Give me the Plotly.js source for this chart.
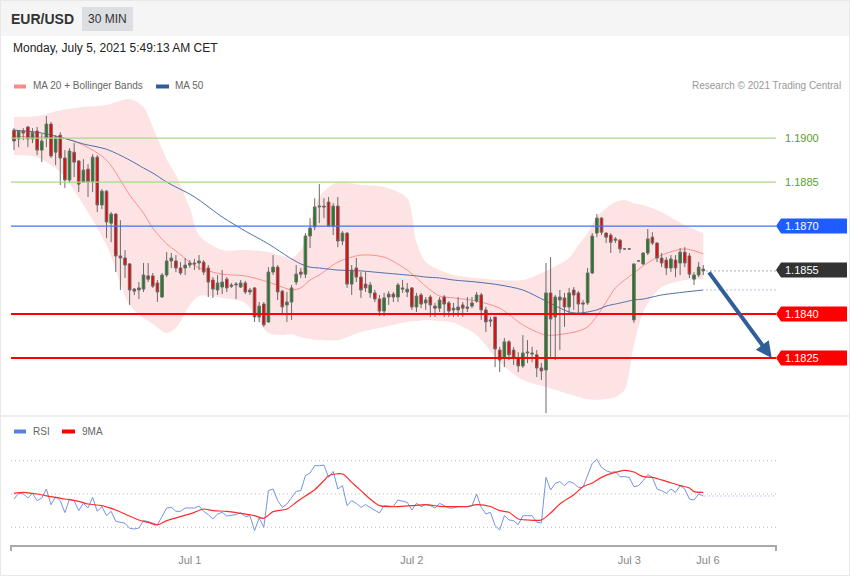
<!DOCTYPE html>
<html><head><meta charset="utf-8">
<script src="https://cdn.plot.ly/plotly-3.0.1.min.js"></script>
<style>html,body{margin:0;padding:0;background:#fff;}#chart{width:850px;height:576px;}</style>
</head><body><div id="chart"></div>
<script>
// ---------- DATA ----------
const open = [
1.19027,1.18997,1.19024,1.19038,1.18997,1.19024,1.18959,1.19000,1.19048,1.18952,
1.19010,1.18932,1.18857,1.18952,1.18922,1.18850,1.18894,1.18850,1.18935,1.18772,
1.18819,1.18710,1.18741,1.18598,1.18591,1.18571,1.18485,1.18482,1.18485,1.18530,
1.18530,1.18506,1.18458,1.18533,1.18581,1.18581,1.18557,1.18557,1.18567,1.18574,
1.18574,1.18577,1.18557,1.18516,1.18482,1.18492,1.18519,1.18499,1.18499,1.18492,
1.18506,1.18482,1.18489,1.18390,1.18434,1.18373,1.18543,1.18560,1.18478,1.18431,
1.18441,1.18509,1.18543,1.18536,1.18666,1.18697,1.18765,1.18768,1.18782,1.18700,
1.18768,1.18649,1.18676,1.18502,1.18557,1.18526,1.18502,1.18472,1.18472,1.18451,
1.18410,1.18458,1.18468,1.18458,1.18489,1.18475,1.18489,1.18424,1.18465,1.18438,
1.18458,1.18427,1.18420,1.18458,1.18438,1.18420,1.18414,1.18431,1.18424,1.18427,
1.18444,1.18465,1.18414,1.18380,1.18390,1.18277,1.18250,1.18305,1.18277,1.18250,
1.18223,1.18267,1.18267,1.18261,1.18216,1.18209,1.18472,1.18390,1.18448,1.18455,
1.18424,1.18482,1.18472,1.18438,1.18438,1.18540,1.18676,1.18727,1.18676,1.18669,
1.18656,1.18652,1.18622,1.18622,1.18380,1.18581,1.18571,1.18608,1.18662,1.18642,
1.18591,1.18584,1.18557,1.18584,1.18574,1.18611,1.18598,1.18519,1.18533,1.18553];
const high = [
1.19034,1.19027,1.19034,1.19041,1.19034,1.19038,1.19014,1.19075,1.19055,1.19010,
1.19020,1.18959,1.18966,1.18983,1.18925,1.18928,1.18911,1.18945,1.18942,1.18826,
1.18823,1.18748,1.18744,1.18720,1.18618,1.18574,1.18489,1.18509,1.18574,1.18574,
1.18540,1.18516,1.18540,1.18611,1.18608,1.18601,1.18577,1.18591,1.18584,1.18588,
1.18601,1.18584,1.18567,1.18526,1.18533,1.18550,1.18526,1.18506,1.18509,1.18516,
1.18513,1.18489,1.18492,1.18441,1.18441,1.18560,1.18601,1.18567,1.18482,1.18475,
1.18499,1.18567,1.18557,1.18676,1.18727,1.18795,1.18843,1.18795,1.18799,1.18778,
1.18799,1.18683,1.18679,1.18567,1.18591,1.18543,1.18543,1.18509,1.18482,1.18465,
1.18472,1.18478,1.18475,1.18506,1.18516,1.18506,1.18492,1.18472,1.18472,1.18458,
1.18465,1.18438,1.18458,1.18465,1.18444,1.18438,1.18458,1.18441,1.18458,1.18458,
1.18475,1.18472,1.18424,1.18390,1.18390,1.18288,1.18318,1.18311,1.18288,1.18270,
1.18328,1.18311,1.18288,1.18277,1.18233,1.18574,1.18594,1.18465,1.18482,1.18472,
1.18489,1.18492,1.18478,1.18448,1.18557,1.18676,1.18741,1.18731,1.18679,1.18676,
1.18662,1.18656,1.18622,1.18622,1.18571,1.18581,1.18611,1.18690,1.18679,1.18645,
1.18608,1.18594,1.18601,1.18601,1.18625,1.18628,1.18608,1.18543,1.18577,1.18567];
const low = [
1.18959,1.18969,1.18993,1.18969,1.18983,1.18942,1.18918,1.18969,1.18932,1.18908,
1.18840,1.18830,1.18847,1.18867,1.18816,1.18847,1.18799,1.18816,1.18748,1.18758,
1.18659,1.18645,1.18543,1.18482,1.18523,1.18431,1.18465,1.18451,1.18475,1.18509,
1.18489,1.18441,1.18455,1.18526,1.18557,1.18543,1.18533,1.18533,1.18557,1.18550,
1.18550,1.18533,1.18458,1.18455,1.18465,1.18468,1.18475,1.18489,1.18451,1.18489,
1.18468,1.18465,1.18373,1.18373,1.18356,1.18370,1.18533,1.18448,1.18397,1.18373,
1.18380,1.18499,1.18523,1.18523,1.18625,1.18686,1.18710,1.18727,1.18697,1.18669,
1.18628,1.18635,1.18489,1.18465,1.18509,1.18455,1.18475,1.18455,1.18441,1.18393,
1.18393,1.18431,1.18441,1.18441,1.18472,1.18458,1.18414,1.18407,1.18420,1.18414,
1.18390,1.18390,1.18407,1.18390,1.18390,1.18390,1.18390,1.18390,1.18407,1.18420,
1.18438,1.18380,1.18339,1.18356,1.18219,1.18202,1.18219,1.18243,1.18226,1.18202,
1.18216,1.18233,1.18236,1.18185,1.18175,1.18062,1.18254,1.18243,1.18277,1.18356,
1.18397,1.18414,1.18397,1.18397,1.18431,1.18536,1.18662,1.18669,1.18642,1.18608,
1.18642,1.18608,1.18622,1.18622,1.18370,1.18581,1.18567,1.18601,1.18635,1.18577,
1.18560,1.18533,1.18543,1.18526,1.18533,1.18560,1.18523,1.18499,1.18526,1.18533];
const close = [
1.18990,1.19024,1.19017,1.18997,1.19020,1.18959,1.18990,1.19048,1.18939,1.19000,
1.18932,1.18857,1.18956,1.18918,1.18843,1.18891,1.18850,1.18935,1.18772,1.18819,
1.18714,1.18741,1.18598,1.18591,1.18567,1.18482,1.18478,1.18489,1.18533,1.18519,
1.18495,1.18475,1.18533,1.18581,1.18591,1.18557,1.18540,1.18567,1.18574,1.18571,
1.18581,1.18543,1.18509,1.18485,1.18506,1.18509,1.18489,1.18495,1.18502,1.18506,
1.18475,1.18475,1.18390,1.18427,1.18363,1.18543,1.18560,1.18475,1.18424,1.18441,
1.18489,1.18536,1.18536,1.18666,1.18693,1.18765,1.18768,1.18765,1.18700,1.18768,
1.18649,1.18676,1.18502,1.18550,1.18526,1.18482,1.18489,1.18499,1.18451,1.18410,
1.18455,1.18468,1.18458,1.18499,1.18485,1.18485,1.18424,1.18461,1.18434,1.18448,
1.18431,1.18420,1.18448,1.18434,1.18410,1.18414,1.18424,1.18420,1.18420,1.18438,
1.18465,1.18414,1.18373,1.18376,1.18281,1.18243,1.18305,1.18261,1.18250,1.18223,
1.18267,1.18270,1.18264,1.18216,1.18206,1.18472,1.18383,1.18458,1.18458,1.18424,
1.18472,1.18465,1.18434,1.18434,1.18540,1.18666,1.18727,1.18679,1.18662,1.18645,
1.18652,1.18622,1.18622,1.18622,1.18571,1.18581,1.18608,1.18656,1.18642,1.18591,
1.18574,1.18557,1.18588,1.18557,1.18611,1.18574,1.18536,1.18533,1.18560,1.18547];

// indicator readings (bar index where read)
const indIdx = [0,5,10,15,20,25,28,30,33,35,38,40,45,50,55,58,60,62,64,66,70,75,80,85,87,89,92,95,100,105,110,115,120,122,124,126,128,130,132,134,136,138,140,145,149];
const bbUpper = [1.19072,1.19075,1.19095,1.19106,1.19113,1.19133,1.19106,1.19038,1.18928,1.18874,1.18761,1.18669,1.18618,1.18618,1.18611,1.18598,1.18591,1.18618,1.18700,1.18799,1.18850,1.18840,1.18833,1.18795,1.18645,1.18577,1.18550,1.18533,1.18523,1.18516,1.18516,1.18547,1.18591,1.18635,1.18676,1.18731,1.18761,1.18782,1.18789,1.18778,1.18772,1.18761,1.18748,1.18703,1.18676];
const bbLower = [1.18942,1.18935,1.18884,1.18772,1.18635,1.18431,1.18386,1.18366,1.18335,1.18352,1.18431,1.18461,1.18455,1.18438,1.18335,1.18328,1.18332,1.18321,1.18315,1.18311,1.18311,1.18339,1.18356,1.18373,1.18376,1.18380,1.18376,1.18370,1.18328,1.18236,1.18175,1.18151,1.18127,1.18117,1.18110,1.18107,1.18110,1.18117,1.18141,1.18294,1.18407,1.18458,1.18492,1.18516,1.18519];
const ma20 = [1.19007,1.19003,1.19003,1.18976,1.18925,1.18806,1.18744,1.18693,1.18639,1.18615,1.18577,1.18557,1.18536,1.18530,1.18509,1.18492,1.18482,1.18489,1.18516,1.18533,1.18577,1.18601,1.18594,1.18550,1.18523,1.18495,1.18461,1.18455,1.18444,1.18420,1.18363,1.18328,1.18335,1.18342,1.18356,1.18393,1.18441,1.18489,1.18516,1.18540,1.18564,1.18584,1.18601,1.18622,1.18605];
const ma50 = [1.19027,1.19020,1.19003,1.18980,1.18962,1.18925,1.18898,1.18881,1.18850,1.18833,1.18809,1.18789,1.18731,1.18683,1.18639,1.18608,1.18588,1.18571,1.18560,1.18557,1.18550,1.18547,1.18540,1.18533,1.18530,1.18526,1.18523,1.18516,1.18509,1.18499,1.18482,1.18444,1.18407,1.18403,1.18407,1.18414,1.18427,1.18434,1.18441,1.18448,1.18451,1.18458,1.18465,1.18475,1.18482];

const rsi = [
47,50.4,50,47.6,50.4,46,47.6,53,43.6,48.4,
46,38.8,47,46,40,44.4,41.6,48,39.6,42.4,
37,39.6,33.6,33,32.4,29.4,29,29.6,34,33.4,
32.6,31.6,36.4,41.6,42,39.6,39.6,41.6,41.6,41.6,
42.8,39.6,37.6,35,38,39,36.8,37,37.6,38.8,
36.4,37,28,35.6,30,52,53,46,42,44,
47.6,51.6,52,61,62.6,67,67,67.4,60,63.6,
53,55,43,46,44.4,42,43.6,42,40.4,38.6,
43,43,42.6,46.4,45.6,45,40.4,44.4,42.4,43.6,
43,41.6,44.4,43,41.6,41.6,42.4,42.4,42.4,43,
50,42,38,39,31,28.4,37,34.4,34,31.6,
37,37,37,33,32.6,60,52.4,56.4,57.4,55,
57.6,56.4,54,54,61.6,68.4,70.8,66,64,63,
63.4,60.4,60.4,60,54.4,55,58,61.6,60,53,
52,50.4,53,51,55,53,47,46.4,50,48.8];
const rsiMaIdx = [0,2,5,8,11,14,16,19,22,24,27,29,31,33,36,39,41,43,46,49,52,54,56,59,61,62,65,67,68,71,73,75,77,79,81,83,86,89,92,96,98,100,103,105,107,109,111,114,116,118,121,123,125,127,129,132,134,136,138,141,144,146,147,149];
const rsiMa = [50.4,51,50,48.4,47,45.6,44,43,40.4,38,34.4,33,31.4,34,36.4,39,41,40,39.6,38.4,37,35.4,39.4,41,45,47,52.6,58,61,62,57,52,47,43,42.4,42.4,43,43.6,42.6,42.4,42.4,43.6,42.5,40,39,35,34.4,34.4,38.6,44,49.5,54.4,56.6,60,62.2,64.2,63.2,60.4,60,57.6,55,53.6,51.4,51];

const levels = [1.1900, 1.1885, 1.1870, 1.1855, 1.1840, 1.1825];
const levelKind = ['res', 'res', 'pivot', 'last', 'sup', 'sup'];
const levelLabels = ['1.1900', '1.1885', '1.1870', '1.1855', '1.1840', '1.1825'];
const tickIdx = [38, 86, 133, 150];
const tickText = ['Jul 1', 'Jul 2', 'Jul 3', 'Jul 6'];
const rsiLevels = [70, 50, 30];
const arrowFrom = [150, 1.18547];
const arrowTo = [163.8, 1.1825];

// ---------- LAYOUT GEOMETRY ----------
const W = 850, H = 576, ML = 11, MR = 3, MT = 95, MB = 30;
const plotW = W - ML - MR, plotH = H - MT - MB;
const barPx = 4.626, firstBarPx = 14;
const xRange = [(ML - firstBarPx) / barPx, (W - MR - firstBarPx) / barPx];
const xAt = px => (px - firstBarPx) / barPx;
const PX = px => (px - ML) / plotW;
const PY = py => (H - MB - py) / plotH;
const yRange = [1.18059, 1.19147];
const mainDomain = [PY(414), 1];
const rsiDomain = [0, PY(417)];
const rsiRange = [18.77, 96.25];
const pricePerPx = (yRange[1] - yRange[0]) / (414 - MT);
const lineEnd = xAt(776);
const FONT = 'Liberation Sans, Arial, sans-serif';
const idx = close.map((_, i) => i);

const traces = [
  {x: indIdx, y: bbUpper, type: 'scatter', mode: 'lines', line: {width: 0, shape: 'spline', smoothing: 0.8}, hoverinfo: 'skip'},
  {x: indIdx, y: bbLower, type: 'scatter', mode: 'lines', fill: 'tonexty', fillcolor: '#fde3e3', line: {width: 0, shape: 'spline', smoothing: 0.8}, hoverinfo: 'skip'},
  {x: indIdx, y: ma20, type: 'scatter', mode: 'lines', line: {color: '#ff8e8e', width: 1, shape: 'spline', smoothing: 0.8}},
  {x: indIdx, y: ma50, type: 'scatter', mode: 'lines', line: {color: '#4d6fab', width: 1, shape: 'spline', smoothing: 0.8}},
  {x: idx, open: open, high: high, low: low, close: close, type: 'candlestick', yaxis: 'y3',
   increasing: {line: {color: '#6a6a6a', width: 1}, fillcolor: '#1d7f1d'},
   decreasing: {line: {color: '#6a6a6a', width: 1}, fillcolor: '#f20000'}, whiskerwidth: 0},
  {x: idx, y: rsi, yaxis: 'y2', type: 'scatter', mode: 'lines', line: {color: '#7594e6', width: 1}},
  {x: rsiMaIdx, y: rsiMa, yaxis: 'y2', type: 'scatter', mode: 'lines', line: {color: '#ff2b2b', width: 1.2, shape: 'spline', smoothing: 0.8}}
];

const shapes = [];
const annotations = [];
// header
shapes.push({type: 'rect', xref: 'paper', yref: 'paper', x0: PX(0), x1: PX(850), y0: PY(36), y1: PY(0), fillcolor: '#f5f5f5', line: {width: 0}, layer: 'below'});
shapes.push({type: 'rect', xref: 'paper', yref: 'paper', x0: PX(82), x1: PX(133), y0: PY(31), y1: PY(7), fillcolor: '#dcdee2', line: {width: 0}});
annotations.push({xref: 'paper', yref: 'paper', x: PX(9), y: PY(19), xanchor: 'left', yanchor: 'middle', text: '<b>EUR/USD</b>', showarrow: false, font: {family: FONT, size: 14, color: '#333'}});
annotations.push({xref: 'paper', yref: 'paper', x: PX(107.5), y: PY(19), xanchor: 'center', yanchor: 'middle', text: '30 MIN', showarrow: false, font: {family: FONT, size: 12, color: '#333'}});
annotations.push({xref: 'paper', yref: 'paper', x: PX(11), y: PY(48), xanchor: 'left', yanchor: 'middle', text: 'Monday, July 5, 2021 5:49:13 AM CET', showarrow: false, font: {family: FONT, size: 12, color: '#222'}});
// legends
shapes.push({type: 'rect', xref: 'paper', yref: 'paper', x0: PX(14), x1: PX(26), y0: PY(88.5), y1: PY(84.5), fillcolor: '#ff8a85', line: {width: 0}});
annotations.push({xref: 'paper', yref: 'paper', x: PX(31), y: PY(86), xanchor: 'left', yanchor: 'middle', text: 'MA 20 + Bollinger Bands', showarrow: false, font: {family: FONT, size: 10, color: '#666'}});
shapes.push({type: 'rect', xref: 'paper', yref: 'paper', x0: PX(156), x1: PX(169), y0: PY(88.5), y1: PY(84.5), fillcolor: '#2f5d9c', line: {width: 0}});
annotations.push({xref: 'paper', yref: 'paper', x: PX(173), y: PY(86), xanchor: 'left', yanchor: 'middle', text: 'MA 50', showarrow: false, font: {family: FONT, size: 10, color: '#666'}});
annotations.push({xref: 'paper', yref: 'paper', x: PX(843), y: PY(86), xanchor: 'right', yanchor: 'middle', text: 'Research © 2021 Trading Central', showarrow: false, font: {family: FONT, size: 10, color: '#999'}});
shapes.push({type: 'rect', xref: 'paper', yref: 'paper', x0: PX(14), x1: PX(26), y0: PY(433.5), y1: PY(429.5), fillcolor: '#5b7fe0', line: {width: 0}});
annotations.push({xref: 'paper', yref: 'paper', x: PX(31), y: PY(431), xanchor: 'left', yanchor: 'middle', text: 'RSI', showarrow: false, font: {family: FONT, size: 10, color: '#666'}});
shapes.push({type: 'rect', xref: 'paper', yref: 'paper', x0: PX(62), x1: PX(75), y0: PY(433.5), y1: PY(429.5), fillcolor: '#ff0000', line: {width: 0}});
annotations.push({xref: 'paper', yref: 'paper', x: PX(80), y: PY(431), xanchor: 'left', yanchor: 'middle', text: '9MA', showarrow: false, font: {family: FONT, size: 10, color: '#666'}});
// separator & border
shapes.push({type: 'line', xref: 'paper', yref: 'paper', x0: PX(0), x1: PX(850), y0: PY(416), y1: PY(416), line: {color: '#eceef2', width: 2}});
shapes.push({type: 'rect', xref: 'paper', yref: 'paper', x0: PX(0.5), x1: PX(849.5), y0: PY(575.5), y1: PY(0.5), line: {color: '#e8e8e8', width: 1}});

// price levels
const kindStyle = {
  res: {line: '#a8d88a', w: 1.2, tag: null, txt: '#5a9e2a'},
  pivot: {line: '#3f76ef', w: 1.3, tag: '#1f5cff', txt: '#fff'},
  last: {line: null, w: 0, tag: '#333333', txt: '#fff'},
  sup: {line: '#ff0000', w: 2, tag: '#ff0000', txt: '#fff'}
};
const hh = 7.5 * pricePerPx;
const tx0 = xAt(776), tx1 = xAt(781), tx2 = xAt(847);
levels.forEach((p, k) => {
  const st = kindStyle[levelKind[k]];
  if (st.line) shapes.push({type: 'line', xref: 'x', yref: 'y', x0: xRange[0], x1: lineEnd, y0: p, y1: p, line: {color: st.line, width: st.w}, layer: 'above'});
  if (st.tag) shapes.push({type: 'path', xref: 'x', yref: 'y', path: `M${tx0},${p} L${tx1},${p + hh} L${tx2},${p + hh} L${tx2},${p - hh} L${tx1},${p - hh} Z`, fillcolor: st.tag, line: {width: 0}});
  annotations.push({xref: 'x', yref: 'y', x: xAt(783), y: p, xanchor: 'left', yanchor: 'middle', text: levelLabels[k], showarrow: false, font: {family: FONT, size: 11, color: st.txt}});
});
// projections
const lastI = close.length - 1;
shapes.push({type: 'line', xref: 'x', yref: 'y', x0: lastI + 0.7, x1: lineEnd, y0: close[lastI], y1: close[lastI], line: {color: '#555', width: 1, dash: '1px,3px'}});
shapes.push({type: 'line', xref: 'x', yref: 'y', x0: indIdx[indIdx.length - 1] + 0.7, x1: lineEnd, y0: ma50[ma50.length - 1], y1: ma50[ma50.length - 1], line: {color: '#6f88b8', width: 1, dash: '1px,3px'}});
annotations.push({xref: 'x', yref: 'y', axref: 'x', ayref: 'y', x: arrowTo[0], y: arrowTo[1], ax: arrowFrom[0], ay: arrowFrom[1], text: '', showarrow: true, arrowhead: 2, arrowsize: 0.8, arrowwidth: 4, arrowcolor: '#2f5e99'});
// RSI levels
rsiLevels.forEach(v => shapes.push({type: 'line', xref: 'x', yref: 'y2', x0: xRange[0], x1: lineEnd, y0: v, y1: v, line: {color: '#bdbdbd', width: 1, dash: '1px,3px'}, layer: 'below'}));
shapes.push({type: 'line', xref: 'x', yref: 'y2', x0: lastI + 0.3, x1: lineEnd, y0: rsi[lastI], y1: rsi[lastI], line: {color: '#7594e6', width: 1, dash: '1px,3px'}});
// x axis line
shapes.push({type: 'line', xref: 'paper', yref: 'paper', x0: PX(11), x1: PX(776), y0: PY(546), y1: PY(546), line: {color: '#aaaaaa', width: 2}});
shapes.push({type: 'line', xref: 'paper', yref: 'paper', x0: PX(11), x1: PX(11), y0: PY(545), y1: PY(551), line: {color: '#aaaaaa', width: 2}});
shapes.push({type: 'line', xref: 'paper', yref: 'paper', x0: PX(776), x1: PX(776), y0: PY(545), y1: PY(551), line: {color: '#aaaaaa', width: 2}});

const layout = {
  width: W, height: H, margin: {l: ML, r: MR, t: MT, b: MB},
  paper_bgcolor: '#ffffff', plot_bgcolor: 'rgba(0,0,0,0)',
  showlegend: false, hovermode: false, boxgap: 0.2,
  font: {family: FONT},
  xaxis: {domain: [0, 1], range: xRange, anchor: 'y2', showgrid: false, zeroline: false, showline: false,
          tickmode: 'array', tickvals: tickIdx, ticktext: tickText, ticks: 'outside', ticklen: 4, tickcolor: 'rgba(0,0,0,0)',
          tickfont: {family: FONT, size: 11, color: '#888'}, rangeslider: {visible: false}, fixedrange: true},
  yaxis: {domain: mainDomain, range: yRange, visible: false, fixedrange: true},
  yaxis3: {overlaying: 'y', range: yRange, visible: false, fixedrange: true},
  yaxis2: {domain: rsiDomain, range: rsiRange, visible: false, fixedrange: true},
  shapes: shapes, annotations: annotations
};
Plotly.newPlot('chart', traces, layout, {displayModeBar: false, staticPlot: true});
</script></body></html>
